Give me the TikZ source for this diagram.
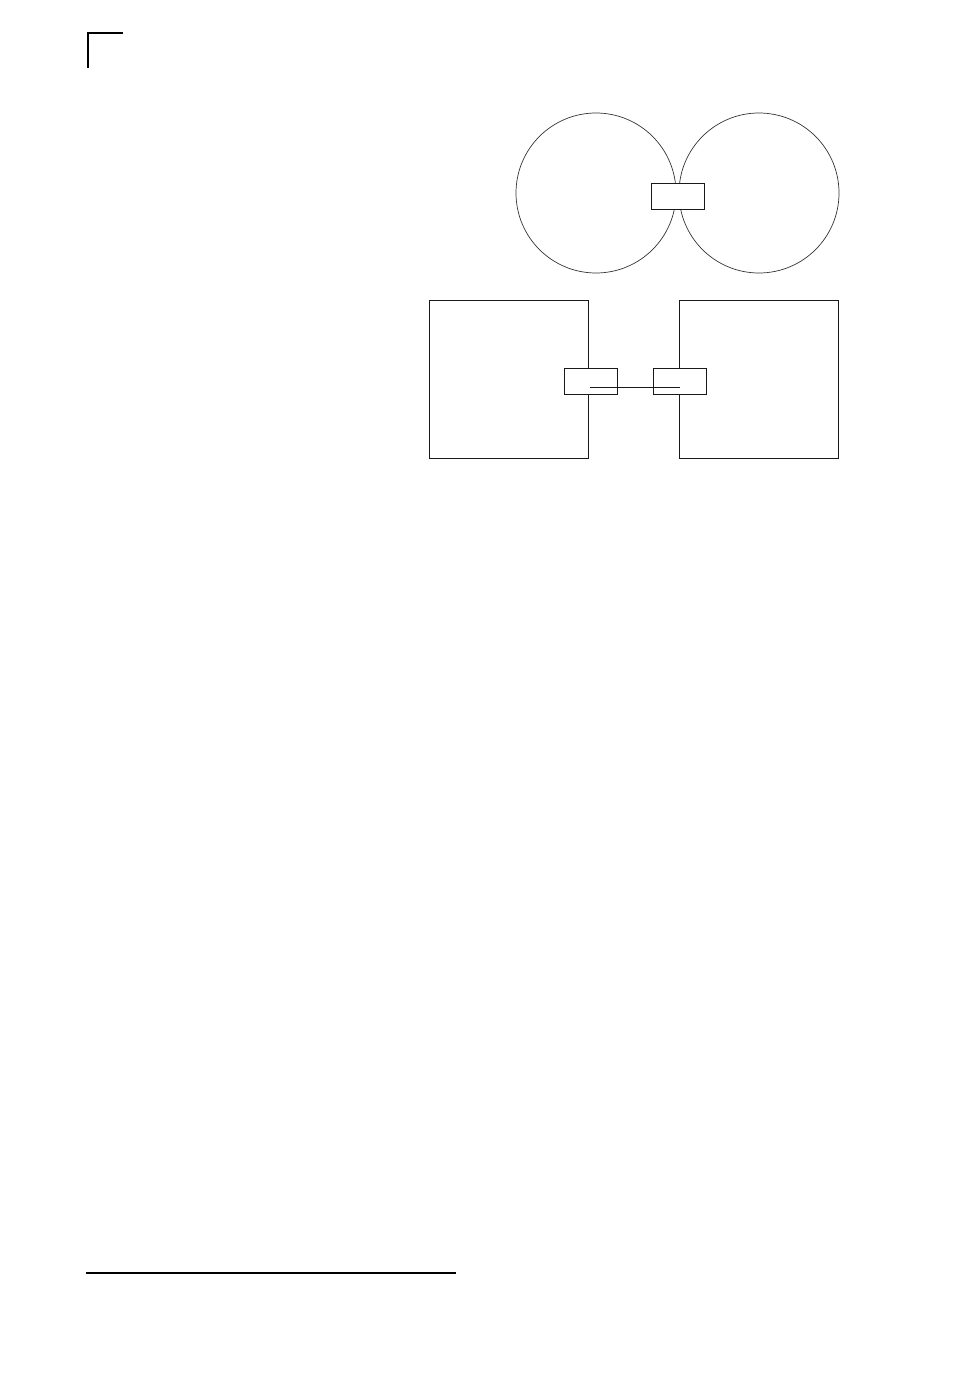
\documentclass[tikz,border=0pt]{standalone}
\begin{document}
\begin{tikzpicture}[x=1pt,y=-1pt,
  ring/.style={circle,draw=black!80,line width=0.7pt,inner sep=0pt,minimum size=160pt},
  bigbox/.style={rectangle,draw=black!90,line width=0.9pt,inner sep=0pt,minimum width=159pt,minimum height=158pt},
  port/.style={rectangle,draw=black!90,fill=white,line width=0.9pt,inner sep=0pt,minimum width=53pt,minimum height=26pt},
  link/.style={draw=black!90,line width=0.9pt},
  rule/.style={draw=black,line width=1.1pt}]
\useasboundingbox (0,0) rectangle (954,1388);
% corner mark
\coordinate (c1) at (88,68);
\coordinate (c2) at (88,33);
\coordinate (c3) at (123,33);
\draw[rule] (c1) -- (c2) -- (c3);
% circles
\node[ring] (ra) at (596,193) {};
\node[ring] (rb) at (759,193) {};
\node[port] (pc) at (678,196) {};
% boxes
\node[bigbox] (ba) at (508.5,379) {};
\node[bigbox] (bb) at (758.5,379) {};
\node[port] (pa) at (590.5,381) {};
\node[port] (pb) at (679.5,381) {};
\coordinate (la) at (590,387);
\coordinate (lb) at (680,387);
\draw[link] (la) -- (lb);
% bottom rule
\coordinate (f1) at (86,1273);
\coordinate (f2) at (456,1273);
\draw[rule] (f1) -- (f2);
\end{tikzpicture}
\end{document}
